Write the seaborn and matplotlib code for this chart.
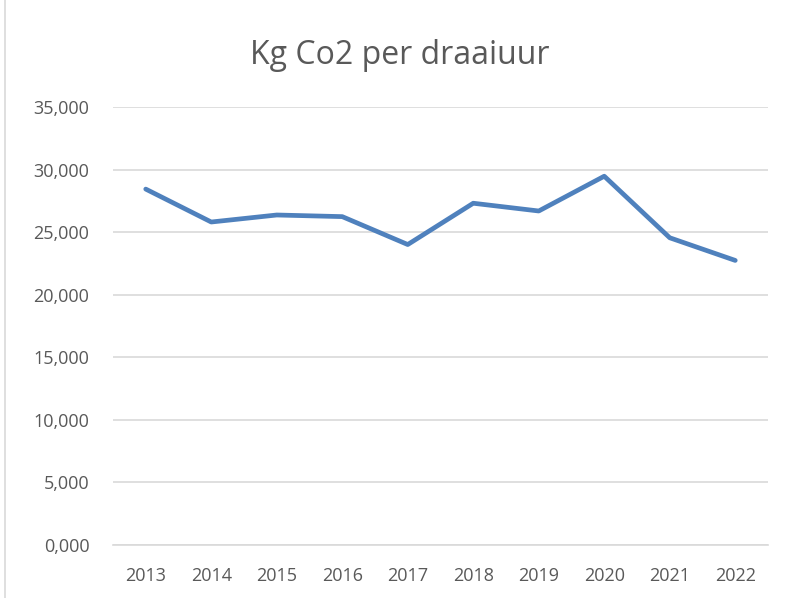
import matplotlib
matplotlib.use("Agg")
import matplotlib.pyplot as plt
import seaborn as sns
import pandas as pd
from matplotlib.ticker import FuncFormatter, MultipleLocator
from matplotlib.lines import Line2D

years = ["2013", "2014", "2015", "2016", "2017", "2018", "2019", "2020", "2021", "2022"]
kg_co2 = [28.44, 25.81, 26.37, 26.24, 24.01, 27.31, 26.69, 29.47, 24.55, 22.74]
title = "Kg Co2 per draaiuur"

df = pd.DataFrame({"jaar": years, "kg": kg_co2})

sns.set_theme(style="white")
plt.rcParams["font.family"] = ["Open Sans", "DejaVu Sans"]

fig = plt.figure(figsize=(7.87, 5.98), dpi=100)
ax = fig.add_axes([113/787, 1-545/598, (768-113)/787, (545-107)/598])

sns.lineplot(data=df, x="jaar", y="kg", ax=ax, color="#4F81BD", linewidth=3.4,
             solid_capstyle="round", solid_joinstyle="round", sort=False)

ax.set_xlim(-0.5, len(years) - 0.5)
ax.set_ylim(0, 35)
ax.yaxis.set_major_locator(MultipleLocator(5))
ax.yaxis.set_major_formatter(FuncFormatter(lambda v, p: f"{v:.3f}".replace(".", ",")))
ax.grid(axis="y", color="#D9D9D9", linewidth=1.2)
ax.set_axisbelow(True)
for s in ["left", "right", "top"]:
    ax.spines[s].set_visible(False)
ax.spines["bottom"].set_color("#D9D9D9")
ax.spines["bottom"].set_linewidth(1.2)
ax.tick_params(axis="both", length=0, labelsize=13, labelcolor="#595959")
ax.tick_params(axis="y", pad=17)
ax.tick_params(axis="x", pad=16)
ax.set_xlabel("")
ax.set_ylabel("")

fig.text(400/787, 1-55/598, title, ha="center", va="center", fontsize=23, color="#595959")
fig.add_artist(Line2D([5/787, 5/787], [0, 1], transform=fig.transFigure, color="#D9D9D9", linewidth=1.2))

fig.savefig("out.png", dpi=100, facecolor="white")
